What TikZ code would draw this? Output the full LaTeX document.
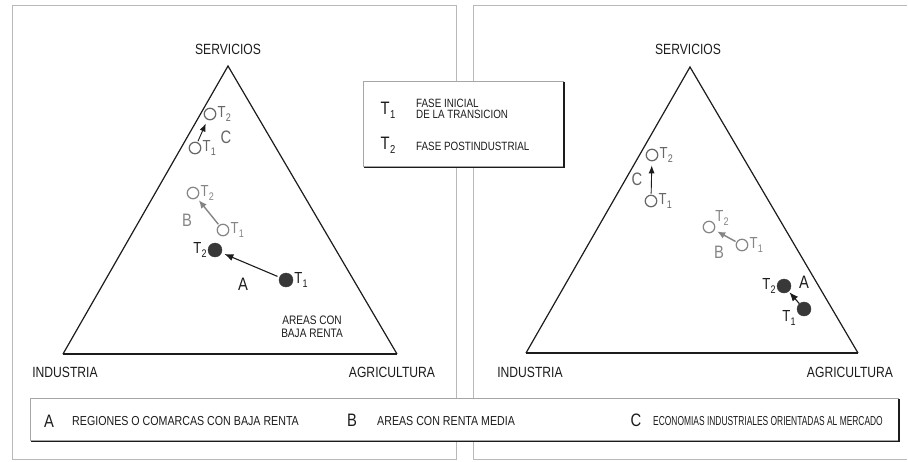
\documentclass[tikz,border=0pt]{standalone}
\usepackage{fontspec}
\setmainfont{Liberation Sans}[FakeStretch=0.82]
\usetikzlibrary{arrows.meta,positioning}
\definecolor{ink}{HTML}{1C1C1C}
\definecolor{grayB}{HTML}{858585}
\definecolor{grayC}{HTML}{666666}
\definecolor{dotA}{HTML}{383838}
\newcommand\Tlab[1]{T\kern0.3pt\raisebox{-0.45ex}{\fontsize{11}{11}\selectfont #1}}
\newcommand\Tbig[1]{T\kern0.5pt\raisebox{-0.45ex}{\fontsize{11.5}{11.5}\selectfont #1}}
\tikzset{
  frameline/.style={draw=gray!55, line width=0.6pt},
  tri/.style={draw=ink, line width=1.2pt, line join=miter},
  tribase/.style={draw=ink, line width=1.9pt},
  corner/.style={text=ink, font=\fontsize{14.8}{16}\selectfont, inner sep=0pt},
  opendotB/.style={circle, draw=grayB, line width=1.2pt, minimum size=11.5pt, inner sep=0pt, fill=white},
  opendotC/.style={circle, draw=grayC, line width=1.2pt, minimum size=11.5pt, inner sep=0pt, fill=white},
  fulldot/.style={circle, fill=dotA, draw=dotA, minimum size=14pt, inner sep=0pt},
  tlabB/.style={text=grayB, font=\fontsize{16}{16}\selectfont, inner sep=0.5pt},
  tlabC/.style={text=grayC, font=\fontsize{16}{16}\selectfont, inner sep=0.5pt},
  tlabA/.style={text=ink, font=\fontsize{16}{16}\selectfont, inner sep=0.5pt},
  letB/.style={text=grayB, font=\fontsize{18}{18}\selectfont, inner sep=0pt},
  letC/.style={text=grayC, font=\fontsize{18}{18}\selectfont, inner sep=0pt},
  letA/.style={text=ink, font=\fontsize{18}{18}\selectfont, inner sep=0pt},
  arrB/.style={draw=grayB, line width=1.4pt, -{Latex[length=8pt,width=7pt]}, shorten <=1pt, shorten >=3pt},
  arrC/.style={draw=ink, line width=0.9pt, -{Latex[length=8pt,width=6pt]}, shorten <=1pt, shorten >=4pt},
  arrA/.style={draw=ink, line width=1.1pt, -{Latex[length=9pt,width=7pt]}, shorten <=2pt, shorten >=3pt},
  boxline/.style={draw=gray!70, line width=0.6pt, fill=white},
  shadowline/.style={draw=ink, line width=1.6pt},
  legtxt/.style={text=ink, font=\fontsize{13}{14}\selectfont, inner sep=0pt, anchor=west},
  smalltxt/.style={text=ink, font=\fontsize{12}{12.5}\selectfont, inner sep=0pt, align=left, anchor=west},
  bigletter/.style={text=ink, font=\fontsize{18}{18}\selectfont, inner sep=0pt},
}
\begin{document}
\begin{tikzpicture}[x=1pt,y=-1pt]
\useasboundingbox[fill=white] (0,0) rectangle (908,461);
% panel frames
\draw[frameline] (12,5) rectangle (456,459);
\draw[frameline] (473,5) -- (907,5);
\draw[frameline] (473,5) -- (473,459) -- (907,459);
% ---------- left triangle ----------
\coordinate (LI) at (63,354);
\coordinate (LA) at (397,354);
\coordinate (LS) at (228,66);
\draw[tri] (LI) -- (LS) -- (LA);
\draw[tribase] (LI) -- (LA);
\node[corner] (lserv) at (228,49) {SERVICIOS};
\node[corner] (lind) at (65,372) {INDUSTRIA};
\node[corner] (lagr) at (392,372) {AGRICULTURA};
% C
\node[opendotC] (lc2) at (210,114) {};
\node[opendotC] (lc1) at (195,148) {};
\node[tlabC, right=0.5pt of lc2] (lc2l) {\Tlab{2}};
\node[tlabC, right=0.5pt of lc1] (lc1l) {\Tlab{1}};
\node[letC] (lcl) at (226,137) {C};
\draw[arrC] (lc1) -- (lc2);
% B
\node[opendotB] (lb2) at (193,193) {};
\node[opendotB] (lb1) at (223,230) {};
\node[tlabB, right=0.5pt of lb2] (lb2l) {\Tlab{2}};
\node[tlabB, right=0.5pt of lb1] (lb1l) {\Tlab{1}};
\node[letB] (lbl) at (187,220) {B};
\draw[arrB] (lb1) -- (lb2);
% A
\node[fulldot] (la2) at (215,250) {};
\node[fulldot] (la1) at (286,280) {};
\node[tlabA, left=0.5pt of la2] (la2l) {\Tlab{2}};
\node[tlabA, right=0.5pt of la1] (la1l) {\Tlab{1}};
\node[letA] (lal) at (243,284) {A};
\draw[arrA] (la1) -- (la2);
\node[text=ink, font=\fontsize{12.3}{13.5}\selectfont, align=center, inner sep=0pt] (lbaja) at (312,327) {AREAS CON\\BAJA RENTA};
% ---------- right triangle ----------
\coordinate (RI) at (526,353);
\coordinate (RA) at (858,353);
\coordinate (RS) at (690,67);
\draw[tri] (RI) -- (RS) -- (RA);
\draw[tribase] (RI) -- (RA);
\node[corner] (rserv) at (688,49) {SERVICIOS};
\node[corner] (rind) at (530,372) {INDUSTRIA};
\node[corner] (ragr) at (850,372) {AGRICULTURA};
% C
\node[opendotC] (rc2) at (652,155) {};
\node[opendotC] (rc1) at (651,201) {};
\node[tlabC, right=0.5pt of rc2] (rc2l) {\Tlab{2}};
\node[tlabC, right=0.5pt of rc1] (rc1l) {\Tlab{1}};
\node[letC] (rcl) at (637,179) {C};
\draw[arrC] (rc1) -- (rc2);
% B
\node[opendotB] (rb2) at (709,227) {};
\node[opendotB] (rb1) at (742,245) {};
\node[tlabB] (rb2l) at (722,218) {\Tlab{2}};
\node[tlabB, right=0.5pt of rb1] (rb1l) {\Tlab{1}};
\node[letB] (rbl) at (719,252) {B};
\draw[arrB] (rb1) -- (rb2);
% A
\node[fulldot] (ra2) at (784,286) {};
\node[fulldot] (ra1) at (804,309) {};
\node[tlabA, left=0.5pt of ra2] (ra2l) {\Tlab{2}};
\node[tlabA] (ra1l) at (789,318) {\Tlab{1}};
\node[letA] (ral) at (804,282) {A};
\draw[arrA, shorten >=1pt, shorten <=0pt] (ra1) -- (ra2);
% ---------- top legend box ----------
\draw[boxline] (363,81) rectangle (563,166);
\draw[shadowline] (564,82) -- (564,167.5) -- (364,167.5);
\node[bigletter] (t1big) at (388,110) {\Tbig{1}};
\node[bigletter] (t2big) at (388,145) {\Tbig{2}};
\node[smalltxt] (t1txt) at (416,109) {FASE INICIAL\\[-1.5pt]DE LA TRANSICION};
\node[smalltxt] (t2txt) at (416,146) {FASE POSTINDUSTRIAL};
% ---------- bottom legend box ----------
\draw[boxline] (30,398) rectangle (898,440);
\draw[shadowline] (899,399) -- (899,441.5) -- (31,441.5);
\node[bigletter] (kA) at (49,421) {A};
\node[legtxt] (kAt) at (72,421) {REGIONES O COMARCAS CON BAJA RENTA};
\node[bigletter] (kB) at (352,420) {B};
\node[legtxt] (kBt) at (377,421) {AREAS CON RENTA MEDIA};
\node[bigletter] (kC) at (636,420) {C};
\node[legtxt] (kCt) at (653,421) {\scalebox{0.79}[1]{ECONOMIAS INDUSTRIALES ORIENTADAS AL MERCADO}};
\end{tikzpicture}
\end{document}
